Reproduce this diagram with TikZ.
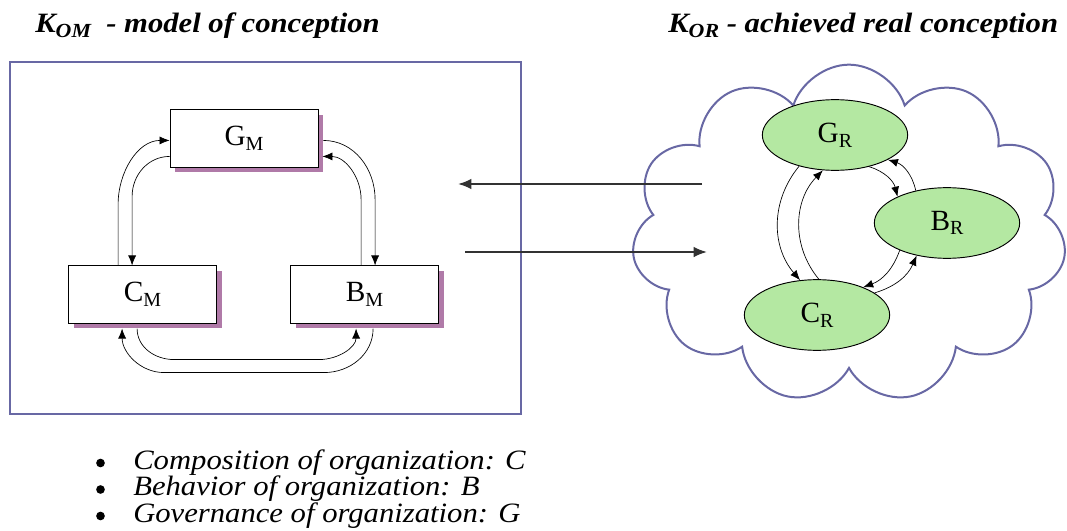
\documentclass[tikz,border=0pt]{standalone}
\usepackage{fontspec}
\setmainfont{Liberation Serif}
\newfontfamily\widefont[FakeStretch=1.095]{Liberation Serif}
\usepackage{tikz}
\usetikzlibrary{shapes.geometric, shapes.symbols, shadows, arrows.meta, positioning, calc}
\definecolor{myframe}{RGB}{104,104,164}
\definecolor{myshadow}{RGB}{176,122,168}
\definecolor{mygreen}{RGB}{180,232,162}
\definecolor{mydark}{RGB}{50,50,50}
\newcommand{\lowsub}[1]{\raisebox{-0.35ex}{\fontsize{15}{15}\selectfont #1}}
\newcommand{\titlesub}[1]{\raisebox{-0.35ex}{\fontsize{15}{15}\selectfont #1}}
\tikzset{
  mbox/.style={rectangle, draw=black, fill=white, minimum width=111pt,
    minimum height=43pt, inner sep=0pt, line width=0.6pt,
    font=\fontsize{22}{22}\selectfont,
    drop shadow={shadow xshift=3.8pt, shadow yshift=-3.8pt, fill=myshadow, opacity=1}},
  rnode/.style={ellipse, draw=black, fill=mygreen, minimum width=109pt,
    minimum height=53pt, inner sep=0pt, line width=0.7pt,
    font=\fontsize{22}{22}\selectfont},
  arr/.style={-{Latex[length=7.5pt,width=6pt]}, line width=0.5pt, color=black},
  bigarrow/.style={-{Latex[length=10pt,width=8pt]}, line width=1.5pt, color=mydark},
  title/.style={anchor=base west, inner sep=0pt, font=\widefont\fontsize{21}{25}\selectfont\bfseries\itshape},
  item/.style={anchor=base west, inner sep=0pt, font=\widefont\fontsize{21}{25}\selectfont\itshape},
  dot/.style={circle, fill=black, minimum size=6.5pt, inner sep=0pt}
}
\begin{document}
\begin{tikzpicture}[x=0.75pt, y=0.75pt]
  \useasboundingbox (0,0) rectangle (1067,-531);
  % headings
  \node[title] (tm) at (35,-33) {K\titlesub{\itshape OM}\ \ - model of conception};
  \node[title] (tr) at (668,-33) {K\titlesub{\itshape OR}\ - achieved real conception};

  % model side
  \draw[myframe, line width=1.5pt] (10,-62) rectangle (521,-414);
  \node[mbox] (gm) at (244,-138.5) {G\lowsub{M}};
  \node[mbox] (cm) at (142.5,-294.5) {C\lowsub{M}};
  \node[mbox] (bm) at (364.5,-294.5) {B\lowsub{M}};

  \draw[arr] ($(cm.north west)+(50,0)$) -- ++(0,61) to[out=90,in=180] ($(gm.north west)+(0,-31)$);
  \draw[arr] ($(gm.north west)+(0,-47)$) to[out=180,in=90] ($(cm.north west)+(64,69)$) -- ($(cm.north west)+(64,0)$);
  \draw[arr] ($(gm.north east)+(5,-31)$) to[out=0,in=90] ($(bm.north west)+(85,66)$) -- ($(bm.north west)+(85,0)$);
  \draw[arr] ($(bm.north west)+(71,0)$) -- ++(0,66) to[out=90,in=0] ($(gm.north east)+(4,-47)$);
  \draw[arr] ($(cm.south west)+(69,-5)$) to[out=-90,in=180] ($(cm.south west)+(106,-36)$)
    -- ($(bm.south west)+(29,-36)$) to[out=0,in=-90] ($(bm.south west)+(66,-5)$);
  \draw[arr] ($(bm.south west)+(83,-5)$) to[out=-90,in=0] ($(bm.south west)+(34,-49)$)
    -- ($(cm.south west)+(96,-49)$) to[out=180,in=-90] ($(cm.south west)+(54,-5)$);

  % real side
  \node[cloud, draw=myframe, line width=1.5pt, cloud puffs=11, cloud puff arc=145, aspect=1.3,
    minimum width=326pt, minimum height=254pt, inner sep=0pt] (cloud) at (849,-234) {};
  \node[rnode] (gr) at (835,-135) {G\lowsub{R}};
  \node[rnode] (br) at (947,-223) {B\lowsub{R}};
  \node[rnode] (cr) at (817,-315) {C\lowsub{R}};

  \draw[arr] (gr.221) to[bend right=40] (cr.116);
  \draw[arr] (cr.87) to[bend left=42] (gr.251);
  \draw[arr] (gr.317) to[bend left=30] (br.152);
  \draw[arr] (br.134) to[bend right=30] (gr.335);
  \draw[arr] (br.210) to[bend left=25] (cr.31);
  \draw[arr] (cr.21) to[bend right=25] (br.227);

  % links between the two
  \coordinate (r1) at (702,-184);
  \coordinate (l1) at (458,-184);
  \coordinate (l2) at (465,-252);
  \coordinate (r2) at (707,-252);
  \draw[bigarrow] (r1) -- (l1);
  \draw[bigarrow] (l2) -- (r2);

  % legend
  \foreach \i/\txt in {0/Composition of organization: C, 1/Behavior of organization: B, 2/Governance of organization: G} {
    \node[dot] (b\i) at (100.5,-463-26.5*\i) {};
    \node[item] (t\i) at (133,-469-26.5*\i) {\txt};
  }
\end{tikzpicture}
\end{document}
